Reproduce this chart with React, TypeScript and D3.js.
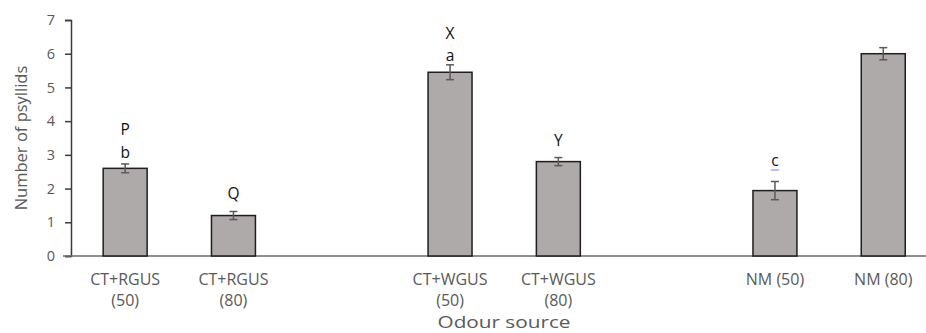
import React, { useRef, useEffect } from 'react'
import * as d3 from 'd3'

// slots on the x axis; the empty keys leave the gaps between groups
const slots = ['RGUS50', 'RGUS80', 'gap1', 'WGUS50', 'WGUS80', 'gap2', 'NM50', 'NM80']
const categories = ['RGUS50', 'RGUS80', 'WGUS50', 'WGUS80', 'NM50', 'NM80']
const labelLines = [
    ['CT+RGUS', '(50)'],
    ['CT+RGUS', '(80)'],
    ['CT+WGUS', '(50)'],
    ['CT+WGUS', '(80)'],
    ['NM (50)'],
    ['NM (80)'],
]
const means = [2.6, 1.2, 5.45, 2.8, 1.94, 6.0]
const errors = [0.13, 0.12, 0.22, 0.12, 0.27, 0.18]
const upperLetters = ['P', '', 'X', '', '', '']
const lowerLetters = ['b', 'Q', 'a', 'Y', 'c', '']
const yTicks = [0, 1, 2, 3, 4, 5, 6, 7]

const W = 926
const H = 333
const FONT = '"Open Sans", "DejaVu Sans", sans-serif'

export default function App() {
    const svgEl = useRef<SVGSVGElement>(null)

    useEffect(() => {
        if (!svgEl.current) return
        const svg = d3.select(svgEl.current)
        svg.selectAll('*').remove()

        const left = 71
        const top = 20
        const bottom = 256

        const x = d3.scaleBand()
            .domain(slots)
            .range([left, left + 8 * 108.3])
            .paddingInner(0.594)
            .paddingOuter(0.297)

        const y = d3.scaleLinear()
            .domain([0, 7])
            .range([bottom, top])

        // y axis
        const yAxis = svg.append('g')
            .attr('transform', `translate(${left},0)`)
            .call(d3.axisLeft(y).tickValues(yTicks).tickSize(6).tickPadding(10).tickFormat(d3.format('d')))
        yAxis.select('.domain').attr('stroke', '#3a3a3a').attr('stroke-width', 1.5)
        yAxis.selectAll('.tick line').attr('stroke', '#3a3a3a').attr('stroke-width', 1.5)
        yAxis.selectAll('.tick text')
            .attr('fill', '#595959')
            .style('font-family', FONT)
            .style('font-size', '14.5px')

        // x axis baseline
        svg.append('line')
            .attr('x1', left - 8)
            .attr('x2', W)
            .attr('y1', y(0))
            .attr('y2', y(0))
            .attr('stroke', '#6b6b6b')
            .attr('stroke-width', 1.5)

        const bw = x.bandwidth()

        // bars
        svg.selectAll('rect.bar')
            .data(categories)
            .enter()
            .append('rect')
            .attr('class', 'bar')
            .attr('x', d => x(d)!)
            .attr('y', (d, i) => y(means[i]))
            .attr('width', bw)
            .attr('height', (d, i) => y(0) - y(means[i]))
            .attr('fill', '#aeaaa9')
            .attr('stroke', '#1e1e1e')
            .attr('stroke-width', 1.5)

        // error bars
        const err = svg.append('g').attr('stroke', '#5a5a5a').attr('stroke-width', 1.5)
        categories.forEach((c, i) => {
            const cx = x(c)! + bw / 2
            const y1 = y(means[i] + errors[i])
            const y2 = y(means[i] - errors[i])
            err.append('line').attr('x1', cx).attr('x2', cx).attr('y1', y1).attr('y2', y2)
            err.append('line').attr('x1', cx - 4).attr('x2', cx + 4).attr('y1', y1).attr('y2', y1)
            err.append('line').attr('x1', cx - 4).attr('x2', cx + 4).attr('y1', y2).attr('y2', y2)
        })

        // significance letters
        const letters = svg.append('g')
            .attr('text-anchor', 'middle')
            .style('font-family', FONT)
            .style('font-size', '15.5px')
            .attr('fill', '#111')
        categories.forEach((c, i) => {
            const cx = x(c)! + bw / 2
            const base = y(means[i] + errors[i])
            if (lowerLetters[i]) {
                const gap = lowerLetters[i] === 'c' ? 15 : lowerLetters[i] === 'a' ? 4 : lowerLetters[i] === 'b' ? 6 : 12
                letters.append('text').attr('x', cx).attr('y', base - gap).text(lowerLetters[i])
                if (lowerLetters[i] === 'c') {
                    // spell-check squiggle under the c
                    const sq = d3.line()(d3.range(0, 9).map(k => [cx - 4 + k, base - gap + 3 + (k % 2)]))
                    letters.append('path').attr('d', sq!).attr('fill', 'none').attr('stroke', '#3b3bff').attr('stroke-width', 0.8)
                }
            }
            if (upperLetters[i]) {
                letters.append('text').attr('x', cx).attr('y', base - (lowerLetters[i] === 'a' ? 26 : 29)).text(upperLetters[i])
            }
        })

        // category labels
        const xl = svg.append('g')
            .attr('text-anchor', 'middle')
            .attr('fill', '#595959')
            .style('font-family', FONT)
            .style('font-size', '16px')
        categories.forEach((c, i) => {
            const cx = x(c)! + bw / 2
            labelLines[i].forEach((line, k) => {
                xl.append('text').attr('x', cx).attr('y', 284.5 + k * 21).text(line)
            })
        })

        // axis titles
        svg.append('text')
            .attr('x', 504)
            .attr('y', 328)
            .attr('text-anchor', 'middle')
            .attr('fill', '#595959')
            .attr('textLength', 133)
            .attr('lengthAdjust', 'spacingAndGlyphs')
            .style('font-family', FONT)
            .style('font-size', '16px')
            .text('Odour source')

        svg.append('text')
            .attr('transform', `translate(27,${(top + bottom) / 2}) rotate(-90)`)
            .attr('text-anchor', 'middle')
            .attr('fill', '#595959')
            .style('font-family', FONT)
            .style('font-size', '16.5px')
            .text('Number of psyllids')
    }, [])

    return (
        <svg
            ref={svgEl}
            width={W}
            height={H}
            style={{ position: 'absolute', left: 0, top: 0, background: '#fff' }}
        />
    )
}
